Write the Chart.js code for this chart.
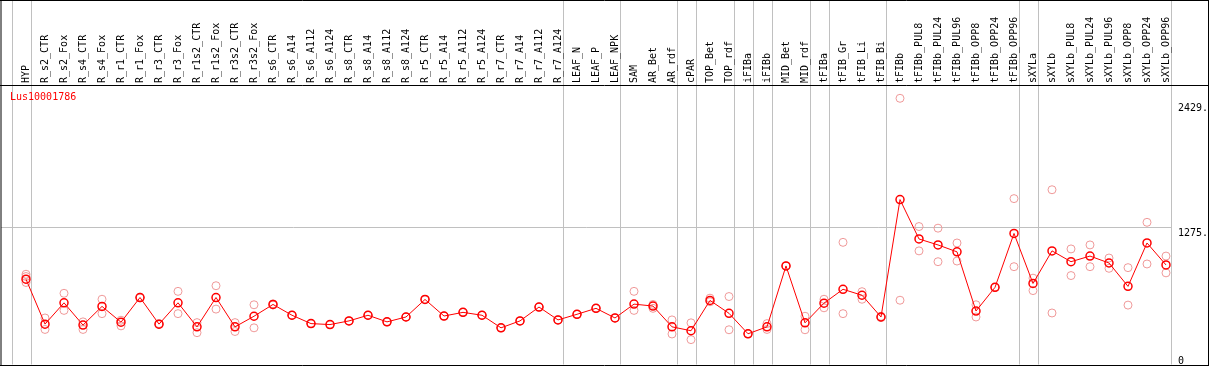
<!DOCTYPE html>
<html>
<head>
<meta charset="utf-8">
<script src="https://cdn.jsdelivr.net/npm/chart.js@4/dist/chart.umd.min.js"></script>
<style>
html,body{margin:0;padding:0;background:#fff;}
canvas{display:block;}
</style>
</head>
<body>
<canvas id="c" width="1209" height="370"></canvas>
<script>
const seriesName = 'Lus10001786';
const categories = ['HYP','R_s2_CTR','R_s2_Fox','R_s4_CTR','R_s4_Fox','R_r1_CTR','R_r1_Fox','R_r3_CTR','R_r3_Fox','R_r1s2_CTR','R_r1s2_Fox','R_r3s2_CTR','R_r3s2_Fox','R_s6_CTR','R_s6_A14','R_s6_A112','R_s6_A124','R_s8_CTR','R_s8_A14','R_s8_A112','R_s8_A124','R_r5_CTR','R_r5_A14','R_r5_A112','R_r5_A124','R_r7_CTR','R_r7_A14','R_r7_A112','R_r7_A124','LEAF_N','LEAF_P','LEAF_NPK','SAM','AR_Bet','AR_rdf','cPAR','TOP_Bet','TOP_rdf','iFIBa','iFIBb','MID_Bet','MID_rdf','tFIBa','tFIB_Gr','tFIB_Li','tFIB_Bi','tFIBb','tFIBb_PUL8','tFIBb_PUL24','tFIBb_PUL96','tFIBb_OPP8','tFIBb_OPP24','tFIBb_OPP96','sXYLa','sXYLb','sXYLb_PUL8','sXYLb_PUL24','sXYLb_PUL96','sXYLb_OPP8','sXYLb_OPP24','sXYLb_OPP96'];

const meanValues = [788,373,570,364,537,391,619,373,570,348,619,348,446,555,455,378,369,403,455,394,439,601,448,482,455,339,403,531,412,464,519,430,558,540,348,312,592,473,284,348,911,385,567,695,640,439,1524,1160,1105,1041,494,713,1211,749,1050,950,1002,938,722,1123,920];

const rep1Values = [834,430,658,394,603,409,622,378,676,387,728,387,552,560,455,378,369,403,455,394,439,601,448,482,455,339,403,531,412,464,519,430,676,555,412,385,613,628,284,378,911,446,603,1129,673,445,2460,1275,1260,1123,552,713,1533,798,1615,1068,1105,984,895,1314,1002];

const rep2Values = [758,324,500,324,470,357,616,370,470,294,512,305,339,550,455,378,369,403,455,394,439,601,448,482,455,339,403,531,412,464,519,430,500,519,282,230,580,321,284,324,911,321,524,470,603,433,594,1050,950,956,439,713,904,683,476,822,904,889,549,929,847];

const rep3Values = [813,null,null,null,null,null,null,null,null,null,null,null,null,null,null,null,null,null,null,null,null,null,null,null,null,null,null,null,null,null,null,null,null,null,null,null,null,null,null,null,null,null,null,null,null,null,null,null,null,null,null,null,null,null,null,null,null,null,null,null,null];

const groupEnds = [-1,0,28,31,34,35,37,38,39,41,42,45,52,53,60];
const yTickValues = [0,1275,2429];
const yTickLabels = ['0','1275.','2429.'];
const yMax = 2583;
const refLine = 1275;

const FONT = 'DejaVu Sans Mono';
const RED = '#ff0000';
const PINK = '#f09a9a';
const GRID = '#c0c0c0';

const decor = {
  id: 'decor',
  beforeDraw(chart) {
    const ctx = chart.ctx, xs = chart.scales.x, ys = chart.scales.y;
    ctx.save();
    ctx.fillStyle = '#fff';
    ctx.fillRect(0, 0, chart.width, chart.height);
    ctx.strokeStyle = GRID;
    ctx.lineWidth = 1;
    const bottom = chart.chartArea.bottom;
    let lastX = 0;
    for (const g of groupEnds) {
      const px = Math.round(xs.getPixelForValue(g) + 4.5) + 0.5;
      lastX = px;
      ctx.beginPath(); ctx.moveTo(px, 0); ctx.lineTo(px, bottom); ctx.stroke();
    }
    const hy = Math.round(ys.getPixelForValue(refLine)) + 0.5;
    ctx.beginPath(); ctx.moveTo(1, hy); ctx.lineTo(lastX, hy); ctx.stroke();
    ctx.restore();
  },
  afterDraw(chart) {
    const ctx = chart.ctx;
    const top = chart.chartArea.top, bottom = chart.chartArea.bottom;
    ctx.save();
    ctx.strokeStyle = '#000';
    ctx.lineWidth = 1;
    ctx.beginPath();
    ctx.moveTo(0, 0.5); ctx.lineTo(chart.width, 0.5);
    ctx.moveTo(0, Math.round(top) + 0.5); ctx.lineTo(chart.width, Math.round(top) + 0.5);
    ctx.moveTo(0, Math.round(bottom) + 0.5); ctx.lineTo(chart.width, Math.round(bottom) + 0.5);
    ctx.moveTo(1, 0); ctx.lineTo(1, Math.round(bottom) + 1);
    ctx.moveTo(chart.width - 0.5, 0); ctx.lineTo(chart.width - 0.5, Math.round(bottom) + 1);
    ctx.stroke();
    ctx.fillStyle = RED;
    ctx.font = '10px "' + FONT + '"';
    ctx.textBaseline = 'alphabetic';
    ctx.textAlign = 'left';
    ctx.fillText(seriesName, 10, top + 14.5);
    ctx.restore();
  }
};

const repStyle = {
  type: 'line', showLine: false, pointRadius: 4, pointHoverRadius: 4,
  pointBorderWidth: 1, pointBorderColor: PINK, pointBackgroundColor: 'rgba(0,0,0,0)',
  borderColor: PINK
};

new Chart(document.getElementById('c'), {
  type: 'line',
  data: {
    labels: categories,
    datasets: [
      { label: seriesName, data: meanValues, borderColor: RED, borderWidth: 1, tension: 0,
        pointRadius: 4, pointHoverRadius: 4, pointBorderWidth: 1.5, pointBorderColor: RED,
        pointBackgroundColor: 'rgba(0,0,0,0)' },
      Object.assign({ label: 'rep1', data: rep1Values }, repStyle),
      Object.assign({ label: 'rep2', data: rep2Values }, repStyle),
      Object.assign({ label: 'rep3', data: rep3Values }, repStyle)
    ]
  },
  options: {
    responsive: false,
    animation: false,
    events: [],
    layout: { padding: { left: 16.5, right: 0, top: 0, bottom: 2 } },
    plugins: { legend: { display: false }, tooltip: { enabled: false } },
    scales: {
      x: {
        type: 'category', position: 'top', offset: true,
        grid: { display: false, drawTicks: false }, border: { display: false },
        ticks: { autoSkip: false, minRotation: 90, maxRotation: 90, padding: 2, labelOffset: 12.5,
                 color: '#000', font: { family: FONT, size: 10, lineHeight: 1.2 } },
        afterFit(s) { s.height = 85; s.paddingLeft = 0; s.paddingRight = 0; }
      },
      y: {
        position: 'right', min: 0, max: yMax,
        grid: { display: false, drawTicks: false }, border: { display: false },
        afterBuildTicks(s) { s.ticks = yTickValues.map(v => ({ value: v })); },
        ticks: {
          padding: 2.5, labelOffset: 2, color: '#000',
          font: { family: FONT, size: 10, lineHeight: 1 },
          callback(value) {
            const i = yTickValues.indexOf(value);
            const t = i >= 0 ? yTickLabels[i] : '';
            return value === 0 ? [t, ''] : ['', t];
          }
        },
        afterFit(s) { s.width = 33.5; s.paddingTop = 0; s.paddingBottom = 0; }
      }
    }
  },
  plugins: [decor]
});
</script>
</body>
</html>
